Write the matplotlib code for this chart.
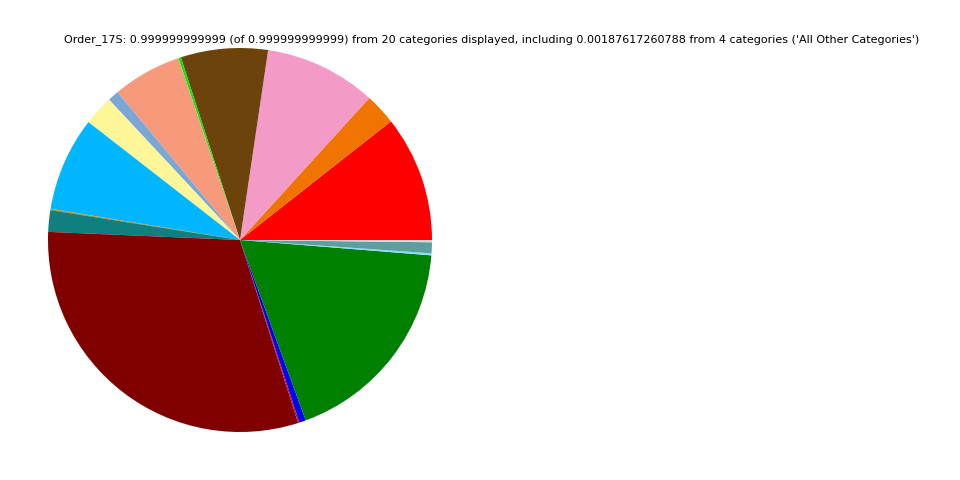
import matplotlib
matplotlib.use("Agg")
import matplotlib.pyplot as plt

# slice shares, counter-clockwise from 3 o'clock
categories = ["c01", "c02", "c03", "c04", "c05", "c06", "c07", "c08", "c09",
              "c10", "c11", "c12", "c13", "c14", "c15", "c16", "c17", "c18",
              "All Other Categories"]
values = [0.1061, 0.0264, 0.0942, 0.0733, 0.0022, 0.0581, 0.0094, 0.0253,
          0.0792, 0.0006, 0.0006, 0.0181, 0.3058, 0.0011, 0.0056, 0.1817,
          0.0017, 0.0092, 0.00188]
colors = ["#ff0000", "#f07400", "#f49ac6", "#6b430b", "#00ee00", "#f79a7c",
          "#7ba7d6", "#fff69a", "#00b7ff", "#f07400", "#808000", "#0f7f7f",
          "#800000", "#e00000", "#0000ff", "#008000", "#80e4f4", "#5f9ea0",
          "#d8d8d8"]

title = ("Order_17S: 0.999999999999 (of 0.999999999999) from 20 categories "
         "displayed, including 0.00187617260788 from 4 categories "
         "('All Other Categories')")

fig = plt.figure(figsize=(9.6, 4.8), dpi=100)
ax = fig.add_axes([48 / 960, 48 / 480, 384 / 960, 384 / 480])
ax.pie(values, colors=colors, startangle=0, counterclock=True,
       wedgeprops=dict(linewidth=0))
ax.set_xlim(-1, 1)
ax.set_ylim(-1, 1)
ax.set_aspect("equal")
ax.axis("off")

fig.text(492 / 960, 1 - 40 / 480, title, ha="center", va="center", fontsize=8)

fig.savefig("out.png", dpi=100)
